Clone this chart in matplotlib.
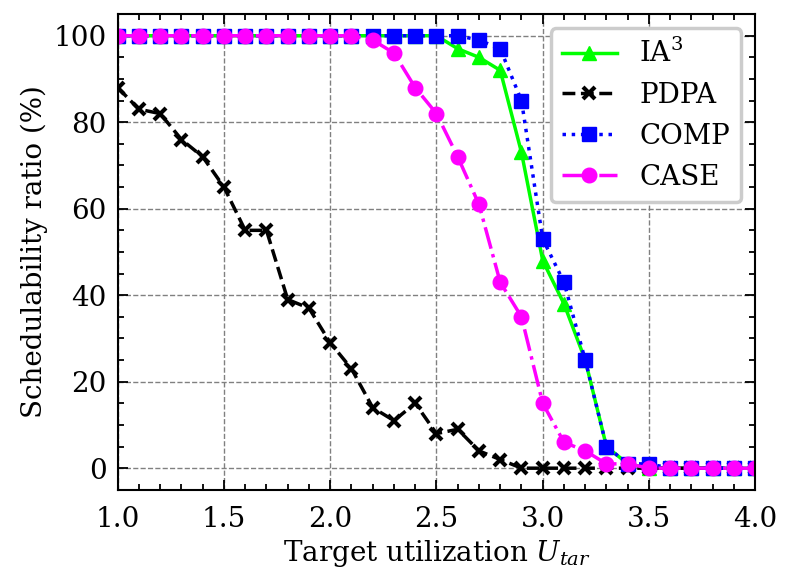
import numpy as np
import matplotlib
matplotlib.use("Agg")
import matplotlib.pyplot as plt
from matplotlib.ticker import MultipleLocator

plt.rcParams["font.family"] = "DejaVu Serif"
plt.rcParams["mathtext.fontset"] = "dejavuserif"
plt.rcParams["font.size"] = 20

# target utilization
u_tar = [1.0, 1.1, 1.2, 1.3, 1.4, 1.5, 1.6, 1.7, 1.8, 1.9, 2.0,
         2.1, 2.2, 2.3, 2.4, 2.5, 2.6, 2.7, 2.8, 2.9, 3.0,
         3.1, 3.2, 3.3, 3.4, 3.5, 3.6, 3.7, 3.8, 3.9, 4.0]

ia3 = [100, 100, 100, 100, 100, 100, 100, 100, 100, 100, 100,
       100, 100, 100, 100, 100, 97, 95, 92, 73, 48,
       38, 25, 5, 1, 0, 0, 0, 0, 0, 0]
pdpa = [88, 83, 82, 76, 72, 65, 55, 55, 39, 37, 29,
        23, 14, 11, 15, 8, 9, 4, 2, 0, 0,
        0, 0, 0, 0, 0, 0, 0, 0, 0, 0]
comp = [100, 100, 100, 100, 100, 100, 100, 100, 100, 100, 100,
        100, 100, 100, 100, 100, 100, 99, 97, 85, 53,
        43, 25, 5, 1, 1, 0, 0, 0, 0, 0]
case = [100, 100, 100, 100, 100, 100, 100, 100, 100, 100, 100,
        100, 99, 96, 88, 82, 72, 61, 43, 35, 15,
        6, 4, 1, 1, 0, 0, 0, 0, 0, 0]

fig = plt.figure(figsize=(7.9, 5.88), dpi=100)
ax = fig.add_axes([0.149, 0.167, 0.807, 0.809])

ax.plot(u_tar, ia3, color="#00ff00", linestyle="-", marker="^",
        markersize=10.5, linewidth=2.5, label="IA$^3$")
ax.plot(u_tar, pdpa, color="black", linestyle="--", marker="x",
        markersize=9, markeredgewidth=3, linewidth=2.5, label="PDPA")
ax.plot(u_tar, comp, color="#0000ff", linestyle=":", marker="s",
        markersize=10.5, linewidth=2.5, label="COMP")
ax.plot(u_tar, case, color="#ff00ff", linestyle="-.", marker="o",
        markersize=10.5, linewidth=2.5, label="CASE")

ax.set_xlim(1.0, 4.0)
ax.set_ylim(-5, 105)
ax.xaxis.set_major_locator(MultipleLocator(0.5))
ax.xaxis.set_minor_locator(MultipleLocator(0.1))
ax.yaxis.set_major_locator(MultipleLocator(20))
ax.yaxis.set_minor_locator(MultipleLocator(5))
ax.tick_params(which="both", direction="in", top=True, right=True, width=1.3)
ax.tick_params(which="major", length=7, labelsize=20, pad=8)
ax.tick_params(axis="x", which="major", pad=11.5)
ax.tick_params(which="minor", length=4)
for s in ax.spines.values():
    s.set_linewidth(1.5)

ax.grid(True, linestyle="--", color="gray", linewidth=1)
ax.set_axisbelow(True)

ax.set_xlabel("Target utilization $U_{tar}$", fontsize=20)
ax.set_ylabel("Schedulability ratio (%)", fontsize=20)

leg = ax.legend(loc="upper right", fontsize=20, framealpha=1,
                edgecolor="0.8", fancybox=True, handlelength=2.0)
leg.get_frame().set_linewidth(2.5)

fig.savefig("out.png", dpi=100)
